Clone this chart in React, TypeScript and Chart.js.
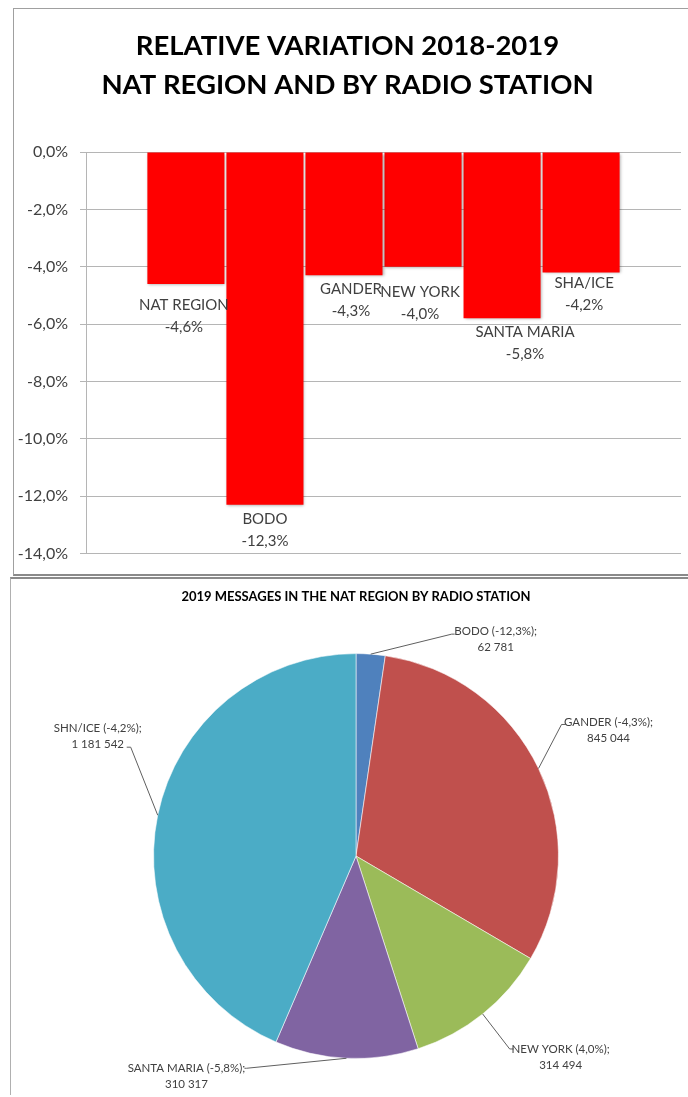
import React, { useEffect, useRef } from 'react';
import { Chart, registerables } from 'chart.js';

Chart.register(...registerables);

// ---- Bar chart data ----
const barTitle = ['RELATIVE VARIATION 2018-2019', 'NAT REGION AND BY RADIO STATION'];
const barCategories = ['NAT REGION', 'BODO', 'GANDER', 'NEW YORK', 'SANTA MARIA', 'SHA/ICE'];
const barValues = [-4.6, -12.3, -4.3, -4.0, -5.8, -4.2];
const yTickValues = [0, -2, -4, -6, -8, -10, -12, -14];
// manual label nudges (px) as placed in the original
const barLabelOffsets: [number, number][] = [[-2, 7], [0, 0], [7, 0], [-3, 11], [23, 0], [3, -3]];

// ---- Pie chart data ----
const pieTitle = '2019 MESSAGES IN THE NAT REGION BY RADIO STATION';
const pieLabels = ['BODO (-12,3%);', 'GANDER (-4,3%);', 'NEW YORK (4,0%);', 'SANTA MARIA (-5,8%);', 'SHN/ICE (-4,2%);'];
const pieValues = [62781, 845044, 314494, 310317, 1181542];
const pieColors = ['#4F81BD', '#C0504D', '#9BBB59', '#8064A2', '#4BACC6'];
// leader line bend (dx,dy), tick length, text centre offset (tx,ty)
const pieLabelPlacement = [
  { dx: 81, dy: -20, tick: 3, tx: 44, ty: -3 },
  { dx: 23, dy: -44, tick: 4, tx: 47, ty: -2 },
  { dx: 27, dy: 35, tick: 4, tx: 51, ty: 0 },
  { dx: -100, dy: 10, tick: -2, tx: -60, ty: 0 },
  { dx: -27, dy: -68, tick: -4, tx: -33, ty: -19 },
];

const FONT = 'Lato, "Open Sans", sans-serif';
const TEXT = '#404040';

const fmtPct = (v: number) => v.toFixed(1).replace('.', ',') + '%';
const fmtNum = (v: number) => String(v).replace(/\B(?=(\d{3})+(?!\d))/g, ' ');

const barLabelPlugin = {
  id: 'barLabels',
  beforeDatasetsDraw(chart: any) {
    const ctx = chart.ctx;
    ctx.save();
    ctx.shadowColor = 'rgba(0,0,0,0.35)';
    ctx.shadowBlur = 3;
    ctx.shadowOffsetX = 1;
    ctx.shadowOffsetY = 1;
  },
  afterDatasetsDraw(chart: any) {
    const ctx = chart.ctx;
    ctx.restore();
    ctx.save();
    ctx.font = `15px ${FONT}`;
    ctx.fillStyle = TEXT;
    ctx.textAlign = 'center';
    ctx.textBaseline = 'middle';
    chart.data.datasets.forEach((_ds: any, i: number) => {
      const el = chart.getDatasetMeta(i).data[0];
      const [ox, oy] = barLabelOffsets[i];
      const x = el.x + ox;
      const y = el.y + 14 + oy;
      ctx.fillText(barCategories[i], x, y);
      ctx.fillText(fmtPct(barValues[i]), x, y + 22);
    });
    ctx.restore();
  },
};

const pieLabelPlugin = {
  id: 'pieLabels',
  afterDatasetsDraw(chart: any) {
    const ctx = chart.ctx;
    const meta = chart.getDatasetMeta(0);
    ctx.save();
    ctx.font = `11.5px ${FONT}`;
    meta.data.forEach((arc: any, i: number) => {
      const { x, y, startAngle, endAngle, outerRadius } = arc;
      const mid = (startAngle + endAngle) / 2;
      const px = x + Math.cos(mid) * outerRadius;
      const py = y + Math.sin(mid) * outerRadius;
      const c = pieLabelPlacement[i];
      const bx = px + c.dx;
      const by = py + c.dy;
      ctx.strokeStyle = '#5f5f5f';
      ctx.lineWidth = 1;
      ctx.beginPath();
      ctx.moveTo(px, py);
      ctx.lineTo(bx, by);
      ctx.lineTo(bx + c.tick, by);
      ctx.stroke();
      ctx.fillStyle = TEXT;
      ctx.textAlign = 'center';
      ctx.textBaseline = 'middle';
      ctx.fillText(pieLabels[i], bx + c.tx, by + c.ty);
      ctx.fillText(fmtNum(pieValues[i]), bx + c.tx, by + c.ty + 16);
    });
    ctx.restore();
  },
};

export default function App() {
  const barRef = useRef<HTMLCanvasElement>(null);
  const pieRef = useRef<HTMLCanvasElement>(null);

  useEffect(() => {
    const bar = new Chart(barRef.current as HTMLCanvasElement, {
      type: 'bar',
      data: {
        labels: ['2018-2019'],
        datasets: barCategories.map((name, i) => ({
          label: name,
          data: [barValues[i]],
          backgroundColor: '#FF0000',
          borderWidth: 0,
          categoryPercentage: 0.797,
          barPercentage: 0.975,
        })),
      },
      options: {
        responsive: false,
        animation: false,
        events: [],
        layout: { padding: { left: 0, right: 7, top: 0, bottom: 15 } },
        plugins: {
          legend: { display: false },
          tooltip: { enabled: false },
          title: {
            display: true,
            text: barTitle,
            color: '#000000',
            font: { family: FONT, size: 27.5, weight: 'bold', lineHeight: 1.42 },
            padding: { top: 18, bottom: 47 },
          },
        },
        scales: {
          x: { display: false },
          y: {
            min: -14,
            max: 0,
            afterBuildTicks: (axis: any) => {
              axis.ticks = yTickValues.map((v) => ({ value: v }));
            },
            afterFit: (scale: any) => {
              scale.width = 72;
            },
            grid: { color: '#b5b5b5', lineWidth: 1, tickLength: 6, drawTicks: true },
            border: { display: true, color: '#b5b5b5' },
            ticks: {
              color: TEXT,
              font: { family: FONT, size: 16 },
              padding: 12,
              callback: (v: any) => fmtPct(Number(v)),
            },
          },
        },
      } as any,
      plugins: [barLabelPlugin],
    });

    const pie = new Chart(pieRef.current as HTMLCanvasElement, {
      type: 'pie',
      data: {
        labels: pieLabels,
        datasets: [
          {
            data: pieValues,
            backgroundColor: pieColors,
            borderColor: 'rgba(255,255,255,0.55)',
            borderWidth: 1,
          },
        ],
      },
      options: {
        responsive: false,
        animation: false,
        events: [],
        layout: { padding: { left: 141, right: 129, top: 0, bottom: 36 } },
        plugins: {
          legend: { display: false },
          tooltip: { enabled: false },
          title: {
            display: true,
            text: pieTitle,
            color: '#000000',
            font: { family: FONT, size: 13, weight: 'bold', lineHeight: 1.2 },
            padding: { top: 9, bottom: 48.5 },
          },
        },
      } as any,
      plugins: [pieLabelPlugin],
    });

    return () => {
      bar.destroy();
      pie.destroy();
    };
  }, []);

  return (
    <div
      style={{
        position: 'absolute',
        left: 0,
        top: 0,
        width: 688,
        height: 1097,
        overflow: 'hidden',
        background: '#ffffff',
      }}
    >
      <div
        style={{
          position: 'absolute',
          left: 13,
          top: 8,
          width: 700,
          height: 568,
          boxSizing: 'border-box',
          borderTop: '1px solid #a0a0a0',
          borderLeft: '1px solid #a0a0a0',
          borderBottom: '2px solid #8a8a8a',
        }}
      />
      <div
        style={{
          position: 'absolute',
          left: 10,
          top: 577,
          width: 700,
          height: 518,
          boxSizing: 'border-box',
          borderTop: '2px solid #8a8a8a',
          borderLeft: '1px solid #b0b0b0',
        }}
      />
      <canvas
        ref={barRef}
        width={674}
        height={566}
        style={{ position: 'absolute', left: 14, top: 9, width: 674, height: 566 }}
      />
      <canvas
        ref={pieRef}
        width={676}
        height={515}
        style={{ position: 'absolute', left: 12, top: 580, width: 676, height: 515 }}
      />
    </div>
  );
}
